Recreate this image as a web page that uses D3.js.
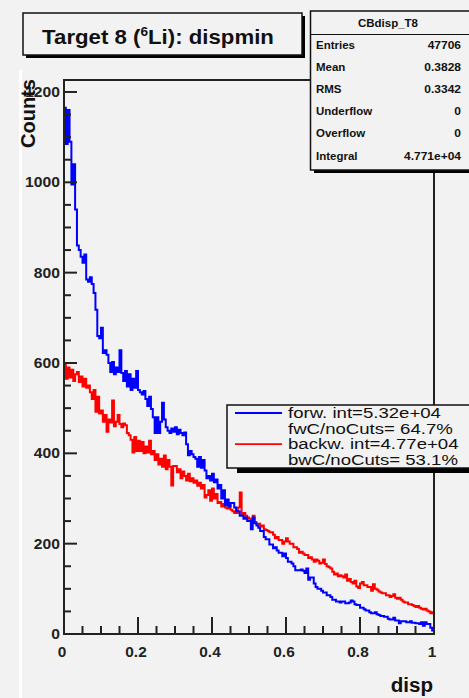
<!DOCTYPE html>
<html><head><meta charset="utf-8">
<script src="https://cdn.jsdelivr.net/npm/d3@7"></script>
<style>html,body{margin:0;padding:0;background:#f2f2f2;}svg{display:block;}</style>
</head><body>
<svg id="c" width="469" height="698"></svg>
<script>
// ---- data (200 bins, width 0.005, disp 0..1) ----
const binEdges = [0, 1];
const nBins = 200;
const forwCounts = [
1165,1085,1160,1090,995,1040,940,860,850,835,
822,840,785,780,790,775,755,718,660,655,
678,622,628,618,600,580,602,575,590,580,
628,578,560,582,548,575,540,565,545,582,
540,535,530,538,520,505,525,498,480,445,
480,445,470,512,475,458,450,445,455,448,
458,442,452,445,440,446,420,396,405,398,
392,388,370,392,368,385,362,345,350,340,
355,336,342,322,330,300,318,285,298,282,
290,290,280,272,272,262,262,255,258,250,
250,232,258,245,240,235,228,228,215,210,
210,198,198,190,192,185,180,180,172,178,
168,160,160,156,150,141,141,141,143,140,
135,145,120,125,125,112,104,100,100,96,
92,92,86,86,82,76,76,72,72,70,
72,72,68,68,70,74,72,66,64,64,
58,58,55,52,52,48,46,46,48,44,
42,40,40,38,38,34,32,32,36,30,
30,24,28,28,28,26,26,28,25,25,
24,24,22,26,18,26,22,22,14,8];
const backwCounts = [
598,565,590,568,585,560,575,580,558,570,
548,565,545,550,535,520,540,492,525,488,
495,470,485,448,475,468,517,460,470,485,
465,458,466,462,445,440,430,402,436,405,
428,405,425,400,415,402,428,398,405,385,
398,375,388,370,395,365,385,370,329,372,
372,358,365,345,360,350,340,355,338,345,
335,340,328,335,322,330,302,308,318,295,
322,300,310,290,292,282,288,280,278,285,
275,272,268,268,280,313,265,268,262,258,
255,250,262,248,244,244,238,240,232,230,
228,225,225,220,212,215,208,208,200,205,
212,205,200,200,192,192,188,180,182,178,
175,175,168,170,165,160,165,162,156,158,
165,155,150,148,145,138,132,134,128,130,
128,125,132,118,122,115,112,118,105,102,
112,115,108,108,104,104,96,110,100,98,
94,92,90,90,86,86,82,84,88,80,
78,80,76,72,70,70,66,66,64,62,
60,62,58,56,54,56,52,50,46,48];
const yTicks = [0, 200, 400, 600, 800, 1000, 1200];
const xTicks = [0, 0.2, 0.4, 0.6, 0.8, 1];
const legendLines = [
  {text: "forw. int=5.32e+04", color: "#0000ff"},
  {text: "fwC/noCuts= 64.7%", color: null},
  {text: "backw. int=4.77e+04", color: "#ff0000"},
  {text: "bwC/noCuts= 53.1%", color: null}];
const statsHeader = "CBdisp_T8";
const statsLabels = ["Entries", "Mean", "RMS", "Underflow", "Overflow", "Integral"];
const statsValues = ["47706", "0.3828", "0.3342", "0", "0", "4.771e+04"];

// ---- drawing ----
const svg = d3.select("#c");
const F = "'Liberation Sans', Arial, Helvetica, sans-serif";
const L = 64, R = 434, T = 80, B = 634;
const x = d3.scaleLinear().domain(binEdges).range([L, R]);
const y = d3.scaleLinear().domain([0, 1226.5]).range([B, T]);

// stretched text helper
function stext(px, py, str, opts) {
  const o = Object.assign({size: 12, bold: false, anchor: "start", sx: 1, fill: "#111"}, opts);
  return svg.append("text")
    .attr("transform", `translate(${px},${py}) scale(${o.sx},1)`)
    .attr("text-anchor", o.anchor).attr("font-family", F)
    .attr("font-weight", o.bold ? "bold" : "normal").attr("font-size", o.size)
    .attr("fill", o.fill).text(str);
}

svg.append("rect").attr("width", 469).attr("height", 698).attr("fill", "#f2f2f2");
svg.append("rect").attr("x", 19).attr("y", 70).attr("width", 3).attr("height", 628).attr("fill", "#ffffff");

const bw = (binEdges[1] - binEdges[0]) / nBins;
function stepPath(vals) {
  const p = d3.path();
  vals.forEach((v, i) => {
    const x0 = x(i * bw), x1 = x((i + 1) * bw);
    if (i === 0) p.moveTo(x0, y(v)); else p.lineTo(x0, y(v));
    p.lineTo(x1, y(v));
  });
  return p.toString();
}
svg.append("path").attr("d", stepPath(backwCounts)).attr("fill", "none").attr("stroke", "#ff0000").attr("stroke-width", 2);
svg.append("path").attr("d", stepPath(forwCounts)).attr("fill", "none").attr("stroke", "#0000ff").attr("stroke-width", 2);

// frame
svg.append("rect").attr("x", L).attr("y", T).attr("width", R - L).attr("height", B - T)
  .attr("fill", "none").attr("stroke", "#222").attr("stroke-width", 2);

// y axis ticks
const yMinor = d3.range(0, 1226, 50);
svg.append("g").selectAll("line").data(yMinor).join("line")
  .attr("x1", L).attr("x2", d => L + (d % 200 === 0 ? 13 : 7))
  .attr("y1", d => y(d)).attr("y2", d => y(d)).attr("stroke", "#222").attr("stroke-width", 2);
yTicks.forEach(d => stext(60, y(d) + 5, String(d), {size: 14, bold: true, anchor: "end", sx: 1.12, fill: "#222"}));

// x axis ticks
const xMinor = d3.range(0, 21).map(i => i * 0.05);
svg.append("g").selectAll("line").data(xMinor).join("line")
  .attr("x1", d => x(d)).attr("x2", d => x(d))
  .attr("y1", B).attr("y2", (d, i) => B - (i % 4 === 0 ? 17 : 8)).attr("stroke", "#222").attr("stroke-width", 2);
xTicks.forEach(d => stext(x(d) - 2, 657, d3.format("")(d), {size: 14, bold: true, anchor: "middle", sx: 1.1, fill: "#222"}));

// axis titles
stext(433, 692, "disp", {size: 20, bold: true, anchor: "end", sx: 1.03});
svg.append("text").attr("transform", "translate(35,79) rotate(-90)").attr("text-anchor", "end")
  .attr("font-family", F).attr("font-weight", "bold").attr("font-size", 20).attr("fill", "#111").text("Counts");

// legend
svg.append("rect").attr("x", 237).attr("y", 466).attr("width", 240).attr("height", 7).attr("fill", "#000");
svg.append("rect").attr("x", 227).attr("y", 405).attr("width", 260).attr("height", 63)
  .attr("fill", "#f2f2f2").attr("stroke", "#111").attr("stroke-width", 1.5);
legendLines.forEach((d, i) => {
  const by = 418 + i * 15.6;
  if (d.color) svg.append("line").attr("x1", 235).attr("x2", 282).attr("y1", by - 5).attr("y2", by - 5)
    .attr("stroke", d.color).attr("stroke-width", 1.8);
  stext(288, by, d.text, {size: 15.5, sx: 1.2});
});

// stats box
svg.append("rect").attr("x", 314).attr("y", 168).attr("width", 160).attr("height", 5).attr("fill", "#000");
svg.append("rect").attr("x", 310.5).attr("y", 11).attr("width", 170).attr("height", 159)
  .attr("fill", "#f2f2f2").attr("stroke", "#111").attr("stroke-width", 1.5);
svg.append("line").attr("x1", 310.5).attr("x2", 469).attr("y1", 34.5).attr("y2", 34.5).attr("stroke", "#111").attr("stroke-width", 1.2);
stext(388, 27, statsHeader, {size: 10, bold: true, anchor: "middle", sx: 1.15});
statsLabels.forEach((s, i) => {
  const by = 48.5 + i * 22.2;
  stext(316, by, s, {size: 10, bold: true, sx: 1.15});
  stext(461, by, statsValues[i], {size: 10, bold: true, anchor: "end", sx: 1.2});
});

// title box
svg.append("rect").attr("x", 26).attr("y", 16).attr("width", 279).attr("height", 42).attr("fill", "#000");
svg.append("rect").attr("x", 23).attr("y", 13).attr("width", 279).attr("height", 42)
  .attr("fill", "#f2f2f2").attr("stroke", "#111").attr("stroke-width", 1.5);
const tt = svg.append("text").attr("transform", "translate(158,44) scale(1.14,1)").attr("text-anchor", "middle")
  .attr("font-family", F).attr("font-weight", "bold").attr("font-size", 19.5).attr("fill", "#111");
tt.append("tspan").text("Target 8 (");
tt.append("tspan").attr("font-size", 12).attr("dy", -8).text("6");
tt.append("tspan").attr("dy", 8).text("Li): dispmin");
</script>
</body></html>
